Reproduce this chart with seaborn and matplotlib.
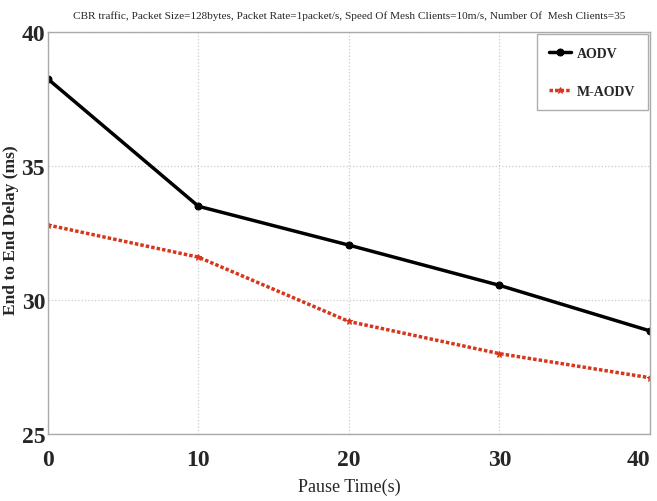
import numpy as np
import pandas as pd
import matplotlib
matplotlib.use("Agg")
import matplotlib.pyplot as plt
import seaborn as sns

# Pause time values and measured end-to-end delay
pause_time = [0, 10, 20, 30, 40]
aodv_delay = [38.25, 33.5, 32.05, 30.55, 28.85]
maodv_delay = [32.8, 31.6, 29.2, 28.0, 27.1]
protocols = ["AODV", "M-AODV"]
x_ticks = [0, 10, 20, 30, 40]
y_ticks = [25, 30, 35, 40]

df = pd.DataFrame({
    "Pause": pause_time * 2,
    "Delay": aodv_delay + maodv_delay,
    "Protocol": [protocols[0]] * len(pause_time) + [protocols[1]] * len(pause_time),
})

sns.set_style("white")
plt.rcParams["font.family"] = ["Liberation Serif", "DejaVu Serif"]

fig = plt.figure(figsize=(6.57, 5.02), dpi=100)
ax = fig.add_axes([0.073, 0.1335, 0.916, 0.8005])

palette = {"AODV": "black", "M-AODV": "#d8361c"}
sns.lineplot(
    data=df, x="Pause", y="Delay", hue="Protocol", style="Protocol",
    palette=palette, dashes={"AODV": "", "M-AODV": (1.0, 0.6)},
    markers={"AODV": "o", "M-AODV": "*"}, markersize=5,
    linewidth=2.5, ax=ax, legend=True,
)
for line in ax.lines:
    line.set_markeredgecolor(line.get_color())

ax.set_xlim(0, 40)
ax.set_ylim(25, 40)
ax.set_xticks(x_ticks)
ax.set_yticks(y_ticks)
ax.tick_params(axis="both", labelsize=17, length=3, color="#999999", direction="in")
ax.tick_params(axis="x", pad=11)
ax.tick_params(axis="y", pad=2)
for lbl in ax.get_xticklabels() + ax.get_yticklabels():
    lbl.set_fontweight("bold")
ax.get_xticklabels()[-1].set_horizontalalignment("right")
ax.grid(True, color="#cccccc", linestyle=":", linewidth=0.9)
for sp in ax.spines.values():
    sp.set_color("#aaaaaa")
    sp.set_linewidth(1.0)

ax.set_xlabel("Pause Time(s)", fontsize=13)
ax.xaxis.set_label_coords(0.5, -0.11)
ax.set_ylabel("End to End Delay (ms)", fontsize=12.5, fontweight="bold")
ax.yaxis.set_label_coords(-0.048, 0.51)
ax.set_title("CBR traffic, Packet Size=128bytes, Packet Rate=1packet/s, Speed Of Mesh Clients=10m/s, "
             "Number Of  Mesh Clients=35", fontsize=8.1, pad=10)

leg = ax.legend(loc="upper right", frameon=True, fancybox=False,
                handlelength=1.6, handletextpad=0.4, borderpad=0.9, labelspacing=1.8,
                borderaxespad=0.15, prop={"weight": "bold", "size": 10})
leg.get_frame().set_edgecolor("#999999")
leg.get_frame().set_linewidth(1.0)

fig.savefig("out.png", dpi=100)
